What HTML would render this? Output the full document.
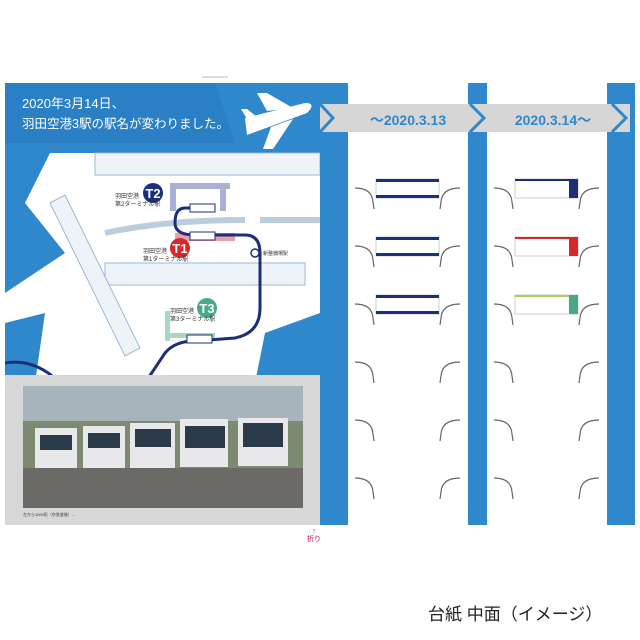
<!DOCTYPE html>
<html><head><meta charset="utf-8"><style>
body{margin:0;width:640px;height:640px;background:#fff;overflow:hidden;position:relative;font-family:"Liberation Sans","Noto Sans CJK JP",sans-serif}
.a{position:absolute}
</style></head><body>
<div class="a" style="left:202px;top:76px;width:26px;height:2px;background:#ddd"></div>
<!-- left panel -->
<div class="a" style="left:5px;top:83px;width:315px;height:442px;background:#2f87cc"></div>
<svg class="a" style="left:5px;top:83px" width="315" height="442">
<polygon points="0,0 210,0 230,60 0,60" fill="#2b7fc4"/>
<polygon points="45,70 315,70 315,230 260,250 250,300 0,300 0,210 60,170 20,120" fill="#fff"/>
<polygon points="0,240 40,230 30,300 0,300" fill="#2f87cc"/>
<rect x="90" y="70" width="225" height="22" fill="#eef3f8" stroke="#9bb8d6"/>
<rect x="100" y="180" width="200" height="22" fill="#eef3f8" stroke="#9bb8d6"/>
<polygon points="45,120 60,112 135,265 120,273" fill="#eef3f8" stroke="#9bb8d6"/>
<rect x="165" y="100" width="60" height="6" fill="#aab0d6"/>
<rect x="165" y="100" width="6" height="28" fill="#aab0d6"/>
<rect x="215" y="100" width="6" height="28" fill="#aab0d6"/>
<rect x="170" y="150" width="60" height="8" fill="#e8a0a8"/>
<rect x="160" y="228" width="5" height="30" fill="#a8d8c4"/>
<rect x="160" y="250" width="50" height="5" fill="#a8d8c4"/>
<path d="M100,150 Q160,137 240,137 M255,137 L315,137" stroke="#bcd" stroke-width="6" fill="none"/>
<path d="M200,125 L180,125 Q170,125 170,140 Q170,152 190,152 L240,152 Q255,152 255,170 L255,225 Q255,250 230,255 L190,258 Q170,258 160,270 L140,300" stroke="#1b2f7a" stroke-width="3" fill="none"/>
<path d="M0,280 Q30,275 55,300" stroke="#1b2f7a" stroke-width="3" fill="none"/>
<rect x="185" y="121" width="25" height="8" fill="#fff" stroke="#1b2f7a"/>
<rect x="185" y="149" width="25" height="8" fill="#fff" stroke="#1b2f7a"/>
<rect x="182" y="252" width="25" height="8" fill="#fff" stroke="#1b2f7a"/>
<circle cx="250" cy="170" r="4" fill="#fff" stroke="#1b2f7a" stroke-width="1.5"/>
<circle cx="148" cy="110" r="10" fill="#1b2f7a"/><text x="148" y="115" font-size="13" font-weight="bold" fill="#fff" text-anchor="middle">T2</text>
<circle cx="175" cy="165" r="10" fill="#d8262a"/><text x="175" y="170" font-size="13" font-weight="bold" fill="#fff" text-anchor="middle">T1</text>
<circle cx="202" cy="225" r="10" fill="#4aa88a"/><text x="202" y="230" font-size="13" font-weight="bold" fill="#fff" text-anchor="middle">T3</text>
<text x="110" y="115" font-size="6" fill="#333">羽田空港</text><text x="110" y="123" font-size="6" fill="#333">第2ターミナル駅</text>
<text x="138" y="170" font-size="6" fill="#333">羽田空港</text><text x="138" y="178" font-size="6" fill="#333">第1ターミナル駅</text>
<text x="165" y="230" font-size="6" fill="#333">羽田空港</text><text x="165" y="238" font-size="6" fill="#333">第3ターミナル駅</text>
<text x="258" y="172" font-size="5" fill="#333">新整備場駅</text>
<g fill="#fff"><path d="M240,35 L300,20 Q312,20 302,30 L242,52 Z"/><path d="M262,28 L252,10 L262,10 L288,25 Z"/><path d="M266,44 L258,66 L268,66 L288,36 Z"/><path d="M242,36 L236,26 L242,26 L252,34 Z"/></g>
<text x="17" y="25" font-size="13" fill="#fff">2020年3月14日、</text>
<text x="17" y="45" font-size="12.5" fill="#fff">羽田空港3駅の駅名が変わりました。</text>
<rect x="0" y="292" width="315" height="150" fill="#d7d7d7"/>
<rect x="18" y="303" width="280" height="122" fill="#7d8a72"/>
<rect x="18" y="303" width="280" height="35" fill="#a8b4bc"/>
<g fill="#e8e8ea"><rect x="30" y="345" width="42" height="40"/><rect x="78" y="343" width="42" height="42"/><rect x="125" y="340" width="45" height="45"/><rect x="175" y="336" width="48" height="48"/><rect x="233" y="335" width="50" height="48"/></g>
<g fill="#2a3a48"><rect x="35" y="352" width="32" height="15"/><rect x="83" y="350" width="32" height="15"/><rect x="130" y="346" width="36" height="18"/><rect x="180" y="343" width="40" height="22"/><rect x="238" y="340" width="40" height="24"/></g>
<rect x="18" y="385" width="280" height="40" fill="#6c6a66"/>
<text x="18" y="433" font-size="4" fill="#333">左から1000形（京急塗装）...</text>
</svg>
<!-- right panel -->
<div class="a" style="left:320px;top:83px;width:315px;height:442px;background:#fff"></div>
<div class="a" style="left:320px;top:83px;width:28px;height:442px;background:#2f87cc"></div>
<div class="a" style="left:468px;top:83px;width:19px;height:442px;background:#2f87cc"></div>
<div class="a" style="left:607px;top:83px;width:28px;height:442px;background:#2f87cc"></div>
<svg class="a" style="left:320px;top:80px" width="320" height="450">
<polygon points="0,24 310,24 310,52 0,52" fill="#d6d6d6"/>
<polyline points="0,24 13,38 0,52" stroke="#2f87cc" stroke-width="3" fill="none"/>
<polyline points="150,24 164,38 150,52" stroke="#2f87cc" stroke-width="3" fill="none"/>
<polyline points="292,24 306,38 292,52" stroke="#2f87cc" stroke-width="3" fill="none"/>
<text x="88" y="45" font-size="14" font-weight="bold" fill="#2f87cc" text-anchor="middle">〜2020.3.13</text>
<text x="233" y="45" font-size="14" font-weight="bold" fill="#2f87cc" text-anchor="middle">2020.3.14〜</text>
<g fill="none" stroke="#666" stroke-width="1.2">
<path id="h" d="M35,108 Q52,108 53,122 L54,129 M120,129 L121,122 Q122,108 140,108"/>
<use href="#h" y="58"/><use href="#h" y="116"/><use href="#h" y="174"/><use href="#h" y="232"/><use href="#h" y="290"/>
<use href="#h" x="139"/><use href="#h" x="139" y="58"/><use href="#h" x="139" y="116"/><use href="#h" x="139" y="174"/><use href="#h" x="139" y="232"/><use href="#h" x="139" y="290"/>
</g>
<g>
<rect x="56" y="99" width="63" height="19" fill="#fff" stroke="#ccc"/><rect x="56" y="99" width="63" height="3" fill="#1b2f7a"/><rect x="56" y="115" width="63" height="3" fill="#1b2f7a"/>
<rect x="56" y="157" width="63" height="19" fill="#fff" stroke="#ccc"/><rect x="56" y="157" width="63" height="3" fill="#1b2f7a"/><rect x="56" y="173" width="63" height="3" fill="#1b2f7a"/>
<rect x="56" y="215" width="63" height="19" fill="#fff" stroke="#ccc"/><rect x="56" y="215" width="63" height="3" fill="#1b2f7a"/><rect x="56" y="231" width="63" height="3" fill="#1b2f7a"/>
<rect x="195" y="99" width="63" height="19" fill="#fff" stroke="#ccc"/><rect x="195" y="99" width="63" height="2" fill="#1b2f7a"/><rect x="249" y="99" width="9" height="19" fill="#1b2f7a"/>
<rect x="195" y="157" width="63" height="19" fill="#fff" stroke="#ccc"/><rect x="195" y="157" width="63" height="2" fill="#d8262a"/><rect x="249" y="157" width="9" height="19" fill="#d8262a"/>
<rect x="195" y="215" width="63" height="19" fill="#fff" stroke="#ccc"/><rect x="195" y="215" width="63" height="2" fill="#a8d060"/><rect x="249" y="215" width="9" height="19" fill="#4aa88a"/>
</g>
</svg>
<div class="a" style="left:307px;top:528px;color:#d0006f;font-size:7px;line-height:8px;text-align:center">↑<br>折り</div>
<div class="a" style="left:428px;top:600px;font-size:17px;color:#222;font-family:'Liberation Sans','Noto Sans CJK JP',sans-serif">台紙 中面（イメージ）</div>
</body></html>
